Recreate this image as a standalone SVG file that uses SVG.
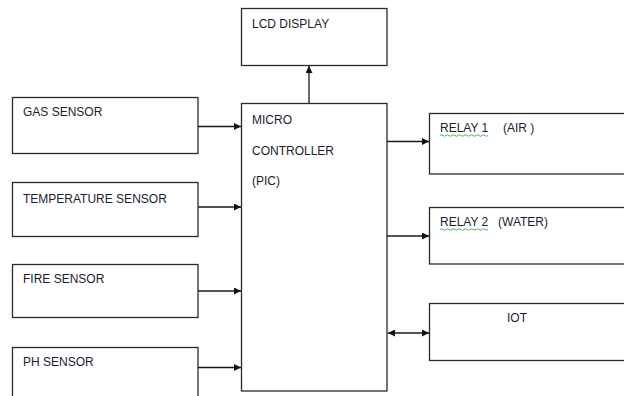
<svg xmlns="http://www.w3.org/2000/svg" width="624" height="396" viewBox="0 0 624 396">
<style>
.box{fill:#fff;stroke:#2a2a2a;stroke-width:1.3}
.lbl{font-family:"Liberation Sans",Arial,sans-serif;font-size:12px;fill:#1c1c30}
.ln{stroke:#1a1a1a;stroke-width:1.3;fill:none}
.sq{stroke:#3aa84a;stroke-width:0.9;fill:none}
</style>
<defs>
<marker id="ah" viewBox="0 0 10 10" refX="10" refY="5" markerWidth="7" markerHeight="7" markerUnits="userSpaceOnUse" orient="auto-start-reverse">
<path d="M0,0 L10,5 L0,10 Z" fill="#111"/>
</marker>
</defs>
<rect width="624" height="396" fill="#fff"/>
<g id="lcd"><rect class="box" x="241.5" y="8.5" width="145.5" height="57"/><text class="lbl" x="252" y="28">LCD DISPLAY</text></g>
<g id="mc"><rect class="box" x="241.5" y="103.5" width="145.5" height="287.5"/>
<text class="lbl" x="252" y="124">MICRO</text>
<text class="lbl" x="252" y="155">CONTROLLER</text>
<text class="lbl" x="252" y="185">(PIC)</text></g>
<g id="gas"><rect class="box" x="12.5" y="97.5" width="185.5" height="56"/><text class="lbl" x="23" y="116">GAS SENSOR</text></g>
<g id="temp"><rect class="box" x="12.5" y="182.5" width="185.5" height="54"/><text class="lbl" x="23" y="203">TEMPERATURE SENSOR</text></g>
<g id="fire"><rect class="box" x="12.5" y="264.5" width="185.5" height="53"/><text class="lbl" x="23" y="283">FIRE SENSOR</text></g>
<g id="ph"><rect class="box" x="12.5" y="347.5" width="185.5" height="60"/><text class="lbl" x="23" y="366">PH SENSOR</text></g>
<g id="relay1"><rect class="box" x="429.5" y="113.5" width="200" height="60.5"/>
<text class="lbl" x="440" y="132">RELAY 1</text><text class="lbl" x="503" y="132">(AIR )</text>
<path class="sq" d="M440,135.5 q1.5,-1.5 3,0 t3,0 t3,0 t3,0 t3,0 t3,0 t3,0 t3,0 t3,0 t3,0 t3,0 t3,0 t3,0 t3,0 t3,0 t3,0"/></g>
<g id="relay2"><rect class="box" x="429.5" y="207.5" width="200" height="56.5"/>
<text class="lbl" x="440" y="226">RELAY 2</text><text class="lbl" x="498" y="226">(WATER)</text>
<path class="sq" d="M440,229.5 q1.5,-1.5 3,0 t3,0 t3,0 t3,0 t3,0 t3,0 t3,0 t3,0 t3,0 t3,0 t3,0 t3,0 t3,0 t3,0 t3,0 t3,0"/></g>
<g id="iot"><rect class="box" x="429.5" y="303.5" width="200" height="57"/><text class="lbl" x="507" y="322">IOT</text></g>
<g id="connectors">
<line class="ln" x1="309" y1="103.5" x2="309" y2="66" marker-end="url(#ah)"/>
<line class="ln" x1="198" y1="126.5" x2="241" y2="126.5" marker-end="url(#ah)"/>
<line class="ln" x1="198" y1="207" x2="241" y2="207" marker-end="url(#ah)"/>
<line class="ln" x1="198" y1="291" x2="241" y2="291" marker-end="url(#ah)"/>
<line class="ln" x1="198" y1="367.5" x2="241" y2="367.5" marker-end="url(#ah)"/>
<line class="ln" x1="387" y1="141.5" x2="429" y2="141.5" marker-end="url(#ah)"/>
<line class="ln" x1="387" y1="236" x2="429" y2="236" marker-end="url(#ah)"/>
<line class="ln" x1="388" y1="333" x2="429" y2="333" marker-start="url(#ah)" marker-end="url(#ah)"/>
</g>
</svg>
